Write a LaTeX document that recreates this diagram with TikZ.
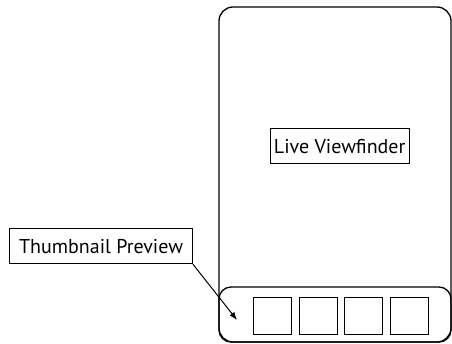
\documentclass[tikz,border=0pt]{standalone}
\usepackage{fontspec}
\setmainfont{PT Sans}
\usetikzlibrary{arrows.meta, positioning}

\begin{document}
\begin{tikzpicture}[x=1pt, y=-1pt,
    etiqueta/.style={rectangle, draw, line width=0.8pt, inner xsep=2pt, minimum height=35pt, font=\fontsize{20}{22}\selectfont},
    miniatura/.style={rectangle, draw, line width=1pt, minimum width=38pt, minimum height=37pt, inner sep=0pt},
    marco/.style={draw, line width=1.3pt, rounded corners=14pt}]

    \useasboundingbox (0,0) rectangle (452,343);

    % pantalla y tira de miniaturas
    \draw[marco] (219,7) rectangle (451,342);
    \draw[marco, rounded corners=12pt] (219,287) rectangle (451,342);

    \node[etiqueta, minimum width=139pt] (vista) at (339.7,146.3) {Live Viewfinder};
    \node[etiqueta, minimum width=183pt] (previa) at (101,246.3) {Thumbnail Preview};

    \node[miniatura] (m1) at (272.5,315.5) {};
    \node[miniatura, right=6.5pt of m1] (m2) {};
    \node[miniatura, right=6.5pt of m2] (m3) {};
    \node[miniatura, right=6.5pt of m3] (m4) {};

    \coordinate (punta) at (237,320);
    \draw[-{Latex[length=8pt, width=6pt]}, line width=1pt] (previa.south east) -- (punta);
\end{tikzpicture}
\end{document}
